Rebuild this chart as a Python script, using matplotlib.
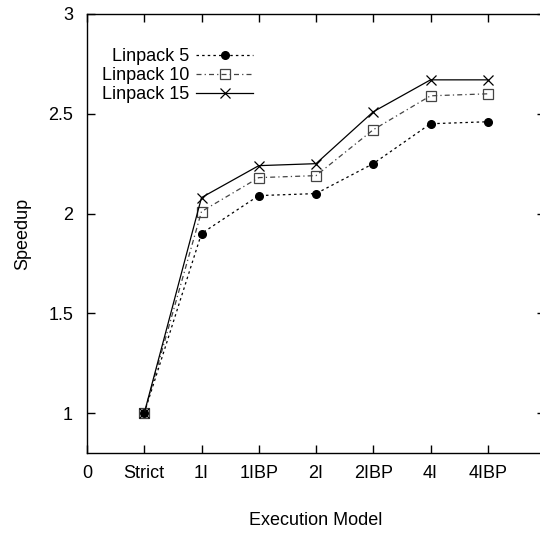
import matplotlib
matplotlib.use("Agg")
import matplotlib.pyplot as plt

# data
models = ["Strict", "1I", "1IBP", "2I", "2IBP", "4I", "4IBP"]
linpack5 = [1.00, 1.90, 2.09, 2.10, 2.25, 2.45, 2.46]
linpack10 = [1.00, 2.01, 2.18, 2.19, 2.42, 2.59, 2.60]
linpack15 = [1.00, 2.08, 2.24, 2.25, 2.51, 2.67, 2.67]
xtick_labels = ["0"] + models
ytick_vals = [1, 1.5, 2, 2.5, 3]

plt.rcParams['font.family'] = ['Liberation Sans', 'DejaVu Sans']
plt.rcParams['font.size'] = 13

fig = plt.figure(figsize=(5.4, 5.33), dpi=100)
ax = fig.add_axes([87 / 540, 80 / 533, 458 / 540, 439 / 533])

xs = list(range(1, len(models) + 1))

ax.plot(xs, linpack5, color='black', linestyle=(0, (2, 2.5)), linewidth=0.9,
        marker='o', markersize=5.5, label='Linpack 5')
ax.plot(xs, linpack10, color='#444444', linestyle=(0, (4, 2.5, 1, 2.5)), linewidth=0.9,
        marker='s', markersize=6.5, markerfacecolor='none', markeredgecolor='#444444',
        markeredgewidth=0.9, label='Linpack 10')
ax.plot(xs, linpack15, color='black', linestyle='-', linewidth=0.9,
        marker='x', markersize=6.5, markeredgewidth=0.9, label='Linpack 15')

ax.set_xlim(0, 8)
ax.set_ylim(0.8, 3)
ax.set_xticks(range(0, len(xtick_labels)))
ax.set_xticklabels(xtick_labels)
ax.set_yticks(ytick_vals)
ax.set_yticklabels(["1", "1.5", "2", "2.5", "3"])

ax.tick_params(direction='in', length=6, width=1, top=True, right=True)
ax.tick_params(axis='x', pad=9)
ax.tick_params(axis='y', pad=10)
for s in ax.spines.values():
    s.set_linewidth(1)

ax.set_xlabel("Execution Model", labelpad=21)
ax.set_ylabel("Speedup", labelpad=12)

ax.legend(loc='upper left', bbox_to_anchor=(0.017, 0.938), frameon=False,
          markerfirst=False, handlelength=3.2, handletextpad=0.35,
          labelspacing=0.1, borderaxespad=0)

fig.savefig("out.png", dpi=100)
